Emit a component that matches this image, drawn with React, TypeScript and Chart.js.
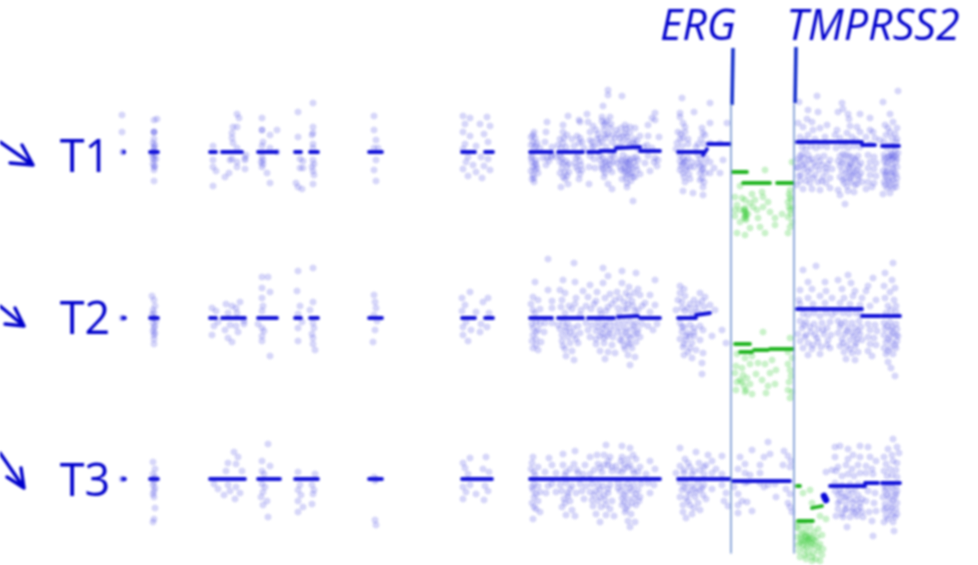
import React, { useEffect, useRef } from "react";
import { Chart, registerables } from "chart.js";
Chart.register(...registerables);

// Positions along the genome and deviation from each track's baseline, as flat [position, deviation, ...] lists.
const trackBase = { T1: 152, T2: 318, T3: 479 };
const trackNames = ["T1", "T2", "T3"];

const t1Left = [122,37,122,20,123,0,123,0,
154,32,157,33,154,20,154,20,154,20,154,13,153,9,155,7,154,5,154,3,154,0,154,0,152,-2,155,-3,153,-6,156,-7,154,-8,153,-12,155,-14,154,-15,154,-18,154,-29,
213,6,213,-8,213,-15,216,-19,213,-34,237,38,239,34,233,25,237,25,232,19,232,14,233,9,237,4,246,-3,245,-6,245,-8,230,-8,232,-7,237,-10,237,-15,245,-17,229,-21,225,-25,
262,34,262,22,262,22,277,22,270,17,263,10,262,6,270,4,277,0,262,-5,263,-8,261,-10,263,-12,262,-15,267,-21,270,-31,
298,40,313,49,313,25,298,15,312,17,313,19,313,8,313,4,300,-7,303,-9,300,-16,303,-16,313,-8,314,-12,312,-15,313,-19,314,-23,296,-31,298,-35,302,-37,313,-32,
374,36,374,22,376,12,374,4,378,4,376,-8,374,-18,376,-29,
463,36,470,34,487,35,465,28,480,28,490,26,463,20,470,16,484,18,488,10,465,8,476,6,463,3,468,-5,481,-5,488,-7,466,-10,473,-13,484,-14,463,-17,476,-20,490,-18,468,-24,482,-26];

const t1Mid = [608,62,608,57,622,56,603,46,655,39,652,34,655,32,682,54,710,49,680,39,680,35,694,40,547,30,568,36,563,27,579,32,580,30,588,30,587,38,602,35,610,35,602,31,605,29,610,24,625,27,635,24,648,27,683,29,685,25,710,29,727,29,702,24,703,19,533,17,535,14,546,20,563,20,567,17,590,20,625,19,627,15,648,16,659,15,683,14,680,13,710,9,720,9,533,10,545,10,560,13,572,13,580,14,563,9,590,12,602,10,612,10,630,7,620,5,635,7,647,7,
536,6,540,4,552,5,558,7,566,5,574,6,584,4,594,6,606,5,616,6,622,10,628,11,638,3,644,5,652,4,676,3,682,6,688,8,696,5,704,8,
543,-6,547,-6,546,-13,533,-15,535,-18,533,-23,534,-30,562,-6,563,-11,567,-14,578,-18,563,-25,565,-27,568,-32,561,-35,579,-27,589,-15,589,-32,595,-16,603,-18,608,-32,612,-37,605,-11,610,-8,620,-8,627,-6,625,-16,632,-16,627,-23,633,-25,627,-31,627,-35,633,-49,645,-11,650,-19,655,-6,658,-8,683,-6,687,-15,683,-21,685,-30,683,-39,693,-41,694,-15,702,-18,702,-26,703,-35,703,-43,710,-10,710,-21,723,-8,720,-21,
532,-4,536,-8,532,-10,536,-13,538,-21,532,-27,552,-3,556,-5,560,-4,566,-9,569,-12,560,-10,576,-6,580,-9,576,-15,582,-18,590,-4,594,-7,600,-3,603,-6,606,-9,602,-13,610,-13,614,-4,617,-11,620,-15,623,-3,626,-9,629,-11,624,-20,630,-14,636,-5,634,-10,637,-18,640,-22,622,-27,631,-29,648,-4,654,-10,657,-14,680,-3,684,-10,688,-6,692,-10,681,-14,689,-22,698,-3,700,-7,704,-12,706,-6,698,-11,700,-21,714,-16,
620,14,623,16,630,19,634,13,640,16,600,14,605,17,597,13,612,17,615,14,596,22,604,22,616,22,593,26];

const t1MidExtra = [531,15,534,20,531,7,534,4,537,9,531,-6,535,-11,531,-19,534,-26,537,-16,549,-9,551,-5,561,4,564,14,562,-16,565,-20,569,-20,560,-21,567,-24,577,16,579,9,582,10,575,-11,578,-4,581,-13,580,-22,592,5,598,18,592,10,599,8,602,-16,605,-21,609,-17,612,-20,604,-25,600,-8,607,-14,611,-3,613,-10,606,14,608,18,611,28,604,27,607,31,618,18,621,24,626,23,630,25,633,9,637,11,622,-9,624,-13,627,-11,630,-8,633,-6,621,-18,626,-19,629,-17,632,-21,635,-25,626,-26,636,-14,630,-22,638,-8,678,20,681,18,685,20,688,13,677,9,680,-9,683,-12,686,-9,690,-15,680,-18,686,-18,684,-25,690,-27,698,8,701,13,705,17,700,-14,703,-16,705,-21,700,-28,704,-30];

const t1Right = [898,61,817,56,799,50,883,50,842,49,808,42,818,40,843,43,838,40,848,38,860,38,870,34,890,38,849,33,807,33,798,29,812,30,827,27,803,25,813,22,820,24,837,22,850,26,857,25,870,22,885,27,897,24,890,20,800,15,808,17,835,17,847,19,860,20,873,20,
893,30,888,24,895,18,886,17,892,14,884,10,896,10,890,7,805,12,815,13,825,15,840,14,852,15,846,10,856,12,866,15,875,14,870,8,880,12,
800,-4,804,-6,808,-3,812,-7,818,-5,824,-4,830,-8,800,-10,806,-12,814,-11,822,-13,828,-12,798,-16,804,-17,811,-17,819,-18,826,-20,832,-17,801,-23,808,-24,815,-23,823,-25,830,-26,800,-29,810,-31,818,-30,826,-31,803,-37,812,-37,820,-38,830,-36,
840,-4,846,-3,852,-5,858,-4,838,-9,844,-8,850,-10,856,-9,861,-11,840,-14,847,-14,853,-15,859,-14,842,-19,849,-20,855,-20,861,-21,840,-25,846,-26,852,-24,858,-27,844,-31,851,-30,857,-32,862,-30,838,-38,848,-39,854,-40,840,-43,845,-52,
868,-3,874,-5,870,-10,876,-11,868,-16,874,-17,870,-23,876,-24,868,-30,874,-31,866,-37,872,-35,
884,-3,888,-5,892,-3,896,-4,884,-9,890,-8,896,-10,886,-14,892,-13,897,-15,883,-19,888,-19,894,-20,886,-25,892,-24,897,-26,884,-30,890,-30,896,-31,887,-36,893,-36,883,-42,890,-41,894,-5,890,-4,
798,-7,797,-15,799,-24,797,-33];

const t1RightExtra = [802,5,806,3,811,6,816,4,821,6,827,5,802,-2,809,-8,816,-14,803,-13,808,-19,820,-9,826,-16,813,-26,806,-29,822,-29,836,4,842,6,848,4,854,6,860,5,843,-2,849,-4,855,-7,842,-11,849,-16,857,-18,851,-12,846,-21,853,-22,859,-24,843,-28,850,-27,855,-33,847,-34,887,4,891,-1,895,1,898,-1,885,-6,892,-7,897,-7,887,-11,893,-16,886,-20,891,-21,896,-22,888,-28,893,-28,885,-33,890,-34,896,-35,893,6,897,13,885,-23];

const t1Green = [765,-18,792,-10,737,-53,745,-48,750,-51,763,-45,763,-55,762,-40,745,-56,745,-60,746,-63,744,-66,746,-68,740,-58,748,-62,750,-76,753,-55,760,-75,765,-81,775,-66,775,-73,790,-38,790,-45,788,-50,790,-58,788,-65,790,-75,788,-81,737,-81,745,-83,740,-70,735,-64,755,-48,770,-60,758,-66,735,-45,792,-55,792,-70,740,-34,752,-42,782,-62,745,-58,746,-61,745,-64,744,-58,746,-66,789,-42,791,-48,789,-55,791,-62,735,-58,742,-46,757,-58,768,-50];

const t2Left = [122,0,123,0,
152,22,154,18,155,12,153,8,154,5,152,3,154,0,154,0,156,-3,153,-5,155,-8,154,-10,153,-13,155,-15,154,-17,154,-21,154,-26,
212,10,216,7,226,14,232,12,236,10,240,16,228,5,237,5,244,-3,218,-4,214,-8,230,-7,236,-8,244,-6,225,-12,238,-14,212,-17,228,-20,232,-24,
262,41,268,41,262,30,262,20,270,26,263,12,262,7,258,-6,262,-10,264,-13,262,-18,262,-23,270,-38,
313,50,298,47,297,27,313,16,300,12,310,8,298,4,302,-4,298,-10,313,-5,314,-10,312,-16,313,-20,298,-23,313,-26,315,-32,
374,23,375,16,376,10,374,3,377,-3,375,-12,373,-24,
462,20,470,26,465,13,483,16,488,20,462,7,476,6,489,5,466,-4,481,-6,463,-9,487,-9,471,-12,480,-14,463,-17,468,-23];

const t2Mid = [548,59,574,55,603,50,622,47,636,45,655,38,680,32,608,42,535,36,563,38,575,36,590,33,603,35,622,35,629,31,638,29,548,28,560,28,565,25,583,27,597,26,610,24,617,26,629,22,640,23,650,23,680,25,685,22,700,25,705,21,533,21,538,18,552,17,562,18,576,20,588,21,596,17,605,20,615,18,624,16,632,17,645,15,655,13,682,16,690,14,695,10,704,11,710,13,533,8,540,9,552,10,561,11,572,9,581,8,591,9,600,8,608,11,618,10,627,9,635,7,650,6,676,8,685,7,692,5,698,6,715,8,
536,-4,540,-6,545,-5,533,-10,538,-12,544,-14,533,-17,536,-21,541,-24,533,-30,538,-32,552,-5,558,-7,563,-4,568,-6,560,-11,566,-13,573,-10,578,-8,562,-17,568,-19,574,-17,580,-15,562,-23,570,-25,578,-25,565,-31,572,-33,566,-38,574,-42,586,-5,592,-7,598,-4,604,-6,610,-4,588,-12,596,-13,603,-11,610,-12,590,-19,600,-18,607,-18,613,-19,596,-26,604,-25,612,-27,600,-33,608,-34,615,-35,605,-41,618,-4,624,-5,630,-4,636,-5,642,-6,620,-10,626,-11,632,-11,638,-12,622,-17,628,-18,634,-17,640,-19,622,-23,628,-25,636,-24,625,-31,632,-30,628,-37,635,-39,630,-47,648,-8,653,-12,657,-6,680,-5,684,-9,690,-7,694,-10,682,-14,688,-15,694,-18,680,-21,686,-22,692,-25,683,-29,690,-30,696,-32,684,-37,692,-40,700,-22,703,-35,702,-45,702,-56,712,-18,722,-12,726,-25];

const t2MidExtra = [531,14,535,5,532,-6,536,-14,532,-23,536,-27,565,5,569,12,575,14,580,3,586,12,594,14,601,4,606,7,612,14,619,4,624,9,628,14,633,12,638,8,642,12,620,20,626,25,634,25,614,-8,617,-14,620,-22,626,-14,630,-20,634,-8,637,-15,624,-28,630,-26,598,-9,602,-15,606,-8,609,-15,604,-20,596,-21,570,-14,576,-21,566,-9,563,-28,682,10,688,10,694,18,678,18,684,29,698,14,702,17,682,-9,686,-18,690,-18,684,-26,688,-34,694,-14,700,-8,703,-12];

const t2Right = [893,55,816,52,803,48,848,43,873,40,885,45,892,38,808,36,825,36,838,38,851,35,868,32,884,32,895,30,800,28,812,29,826,27,842,29,855,27,866,27,890,26,799,18,808,20,820,22,832,20,844,20,853,22,862,20,876,18,885,20,894,18,800,14,813,14,825,15,840,15,850,14,860,13,870,12,888,12,896,12,
800,-3,806,-4,814,-6,822,-5,830,-4,802,-10,810,-9,818,-11,827,-10,798,-16,806,-17,815,-17,824,-16,831,-17,800,-23,808,-25,818,-24,828,-22,803,-30,812,-31,821,-29,830,-30,808,-37,820,-36,
838,-3,845,-4,852,-5,859,-3,840,-9,848,-10,855,-10,861,-9,838,-15,845,-16,852,-15,860,-16,842,-21,850,-22,857,-21,862,-22,840,-28,847,-28,855,-28,844,-34,852,-35,858,-34,846,-41,855,-42,
868,-6,875,-7,870,-12,877,-13,868,-19,874,-20,870,-26,876,-27,868,-33,872,-38,
884,-5,890,-4,896,-6,885,-11,891,-12,897,-11,884,-17,890,-18,896,-17,886,-24,892,-24,897,-23,884,-30,890,-30,896,-30,886,-36,893,-36,888,-44,895,-58,891,-50];

const t2RightExtra = [803,4,808,3,814,5,820,2,826,5,832,3,836,6,843,5,849,4,856,5,861,3,804,-7,811,-14,817,-20,823,-12,827,-27,805,-19,813,-27,841,-6,847,-13,854,-18,858,-13,843,-25,850,-31,856,-25,886,5,891,8,896,6,887,-8,893,-15,888,-21,895,-27,888,-33,892,-9,898,-18];

const t2Green = [763,-14,790,-20,737,-36,745,-40,752,-38,758,-45,736,-48,742,-50,750,-46,765,-46,772,-42,788,-34,792,-40,788,-46,790,-52,735,-55,743,-57,747,-60,756,-56,770,-55,776,-52,791,-58,789,-64,737,-64,744,-68,742,-64,750,-66,762,-62,768,-68,775,-66,788,-72,792,-74,736,-72,745,-74,752,-76,766,-75,790,-80,740,-62,746,-72];

const t3Left = [122,0,123,0,
153,17,155,10,153,5,155,2,154,0,154,-3,153,-6,155,-9,154,-12,153,-15,154,-18,155,-29,154,-40,153,-43,
234,27,238,22,228,16,236,15,242,8,226,8,214,-5,228,-6,236,-8,230,-12,240,-14,218,-10,224,-16,235,-20,
268,35,262,18,270,13,262,8,264,5,262,-5,265,-8,263,-13,261,-18,267,-22,263,-26,268,-38,
298,7,315,5,300,-6,312,-6,298,-11,314,-11,301,-16,313,-15,298,-22,303,-28,298,-33,312,-25,
375,-2,374,2,376,0,375,-41,376,-46,
463,16,470,21,486,22,465,11,483,10,489,7,468,5,463,-8,470,-6,485,-7,488,-12,466,-13,476,-15,463,-20,484,-21];

const t3Mid = [606,34,604,24,622,33,630,31,575,28,563,25,549,21,533,22,590,22,597,24,610,22,622,22,636,20,650,18,680,31,696,27,708,24,685,20,699,16,712,18,722,23,740,22,752,29,768,37,770,25,764,22,784,28,788,23,532,16,538,12,552,14,563,14,574,15,585,14,598,15,608,14,616,13,624,15,630,14,640,12,655,10,680,13,690,12,704,12,716,10,738,10,745,15,760,14,783,14,790,12,791,18,
534,7,545,7,556,6,566,7,578,6,590,5,602,7,612,8,622,7,634,6,646,5,676,6,684,6,692,5,704,5,712,6,722,5,745,6,750,4,760,6,
534,-5,538,-7,548,-7,533,-11,540,-13,534,-18,538,-22,534,-28,540,-33,533,-40,546,-14,552,-5,560,-6,566,-4,572,-7,562,-12,568,-14,556,-13,564,-20,570,-22,562,-28,572,-31,566,-36,575,-37,580,-5,586,-7,592,-5,598,-6,582,-12,590,-13,596,-12,603,-7,610,-6,584,-20,592,-21,600,-18,608,-14,605,-21,612,-22,593,-27,601,-28,610,-30,596,-35,606,-36,614,-37,600,-43,618,-4,623,-7,628,-5,634,-6,641,-5,620,-12,626,-13,632,-12,638,-11,622,-19,628,-20,634,-19,640,-18,622,-26,628,-27,636,-26,625,-33,631,-35,628,-42,635,-43,630,-48,648,-4,654,-6,650,-14,680,-3,686,-5,692,-7,698,-4,704,-6,682,-11,688,-12,694,-10,700,-11,680,-18,686,-19,695,-18,703,-16,683,-26,690,-26,698,-24,706,-20,683,-33,692,-35,700,-31,686,-39,712,-10,722,-6,726,-14,724,-22,728,-27,734,-8,745,-4,738,-15,738,-26,738,-34,748,-3,742,-22,747,-23,752,-32,760,-4,764,-8,768,-6,775,-5,776,-18,786,-10,790,-15,788,-24,792,-33,790,-28];

const t3MidExtra = [531,10,535,4,532,-8,536,-15,532,-24,536,-30,565,4,570,10,577,9,583,5,594,9,600,11,604,14,608,18,612,12,618,8,624,10,628,12,633,9,638,7,621,18,628,20,633,24,618,-9,624,-16,630,-9,636,-15,639,-22,624,-23,632,-24,626,-30,600,-11,604,-16,608,-10,594,-16,598,-22,606,-26,570,-10,576,-14,565,-24,568,-17,684,9,688,16,694,8,700,9,706,14,684,-8,690,-15,696,-13,688,-22,694,-29,702,-9];

const t3Right = [893,40,888,30,897,32,884,22,892,24,899,26,835,32,840,33,848,30,860,33,868,32,835,22,848,20,853,24,860,22,870,22,876,18,886,15,893,18,897,16,838,12,846,14,852,10,858,14,866,13,872,10,884,8,890,10,896,9,
826,7,832,9,
840,-10,838,-16,846,-18,852,-14,858,-16,862,-20,868,-12,875,-14,840,-22,846,-25,853,-24,860,-24,866,-22,874,-24,838,-30,845,-31,852,-32,858,-31,862,-33,869,-33,876,-32,836,-37,843,-38,850,-38,857,-37,863,-38,872,-42,847,-48,
884,-6,890,-5,896,-7,885,-12,891,-13,897,-12,883,-18,889,-19,895,-18,885,-25,891,-25,897,-24,884,-31,890,-32,896,-30,886,-37,892,-36,884,-43,893,-43,894,-52,873,-57,835,-4,842,-6,850,-5,858,-5,864,-7];

const t3RightExtra = [836,8,842,3,848,5,854,3,860,6,866,6,873,5,887,3,892,4,897,2,835,-12,841,-14,848,-12,855,-10,838,-24,844,-18,850,-20,856,-21,846,-30,853,-29,860,-28,842,-35,855,-34,886,-9,892,-8,896,-15,887,-16,893,-21,886,-29,892,-29,897,-35,888,-40,895,-38];

const t3Green = [810,-11,803,-14,812,-24,820,-37,826,-40,798,-44,799,-50,801,-56,800,-64,799,-72,800,-78,804,-46,806,-52,810,-56,814,-53,818,-50,822,-56,802,-62,807,-64,811,-68,815,-62,820,-65,823,-70,804,-70,808,-74,813,-74,818,-72,822,-76,806,-80,812,-82,816,-80,801,-60,805,-58,809,-62,813,-60,817,-58,803,-66,807,-68,803,-54,797,-58,798,-66,810,-48,797,-48,805,-76,812,-78,820,-82,814,-66,818,-68,811,-59,808,-61,805,-62,808,-58,812,-64,806,-57];

// Copy-number segments: [start, end, startDeviation, endDeviation]
const blueSegs = {
  T1: [[124,124,0,0],[150,158,0,0],[210,216,0,0],[222,242,0,0],[258,277,0,0],[295,301,0,0],[310,318,0,0],[369,382,0,0],[462,475,0,0],[485,493,0,0],[530,552,0,0],[558,583,0,0],[588,600,0,0],[600,615,1,1],[616,640,4,5],[640,660,1,1],[678,703,0,0],[703,707,-3,3],[708,730,8,8],[797,862,10,10],[862,875,7,7],[882,899,6,6]],
  T2: [[123,125,0,0],[150,158,0,0],[210,216,0,0],[222,245,0,0],[258,277,0,0],[295,301,0,0],[310,318,0,0],[369,382,0,0],[462,475,0,0],[485,493,0,0],[530,552,0,0],[558,583,0,0],[588,614,0,0],[618,638,1,2],[640,660,0,0],[678,696,0,0],[696,710,3,5],[797,862,9,9],[862,880,2,2],[882,900,2,2]],
  T3: [[123,125,0,0],[150,158,0,0],[210,245,0,0],[258,280,0,0],[295,318,0,0],[369,382,0,0],[462,492,0,0],[530,660,0,0],[678,730,0,0],[733,790,-2,-2],[830,865,-7,-7],[865,878,-4,-4],[882,900,-4,-4]],
};
const greenSegs = {
  T1: [[733,747,-20,-20],[743,770,-31,-31],[777,793,-31,-31]],
  T2: [[735,750,-26,-26],[740,752,-34,-34],[754,768,-32,-32],[770,793,-31,-31]],
  T3: [[797,800,-7,-7],[812,822,-29,-27],[798,813,-42,-42]],
};
const t3BlueBlob = [[824,826,-17,-21]];

const geneLabels = [{ text: "ERG", x: 698, y: 28 }, { text: "TMPRSS2", x: 873, y: 28 }];
const geneLines = [731, 794];
const geneLineTop = 104;
const geneLineBottom = 553;
const geneStems = [[733, 48, 732, 105], [796, 47, 795, 103]];
const arrows = {
  T1: [[0, 142], [33, 165], [22, 145], [33, 165], [10, 163]],
  T2: [[0, 306], [24, 326], [15, 308], [24, 326], [5, 324]],
  T3: [[0, 453], [24, 488], [21, 468], [24, 488], [7, 477]],
};
const labelOffsets = { T1: 7, T2: 3, T3: 4 };

const toPts = (flat: number[], base: number) => {
  const out: { x: number; y: number }[] = [];
  for (let i = 0; i < flat.length; i += 2) out.push({ x: flat[i], y: base - flat[i + 1] });
  return out;
};

const BLUE_FILL = "rgba(55,55,230,0.20)";
const BLUE_EDGE = "rgba(85,85,215,0.18)";
const GREEN_FILL = "rgba(50,205,50,0.26)";
const GREEN_EDGE = "rgba(70,200,70,0.18)";
const INK = "#0000cc";

export default function App() {
  const ref = useRef<HTMLCanvasElement>(null);
  useEffect(() => {
    const datasets: any[] = [];
    const line = (data: any[], color: string, width: number, cap = "round") =>
      datasets.push({ type: "line", data, borderColor: color, borderWidth: width, pointRadius: 0, borderCapStyle: cap, borderJoinStyle: "round", tension: 0, order: 0, fill: false });
    geneLines.forEach((x) => line([{ x, y: geneLineTop }, { x, y: geneLineBottom }], "#6b8fd0", 1.5, "butt"));
    geneStems.forEach((s) => line([{ x: s[0], y: s[1] }, { x: s[2], y: s[3] }], "#1530cc", 3.6, "butt"));
    trackNames.forEach((t) => {
      const base = (trackBase as any)[t];
      (blueSegs as any)[t].forEach((s: number[]) => line([{ x: s[0], y: base - s[2] }, { x: s[1], y: base - s[3] }], "#1212d8", 3.8));
      (greenSegs as any)[t].forEach((s: number[]) => line([{ x: s[0], y: base - s[2] }, { x: s[1], y: base - s[3] }], "#22b522", 3.8));
      line((arrows as any)[t].map((p: number[]) => ({ x: p[0], y: p[1] })), INK, 3.4);
    });
    t3BlueBlob.forEach((s) => line([{ x: s[0], y: trackBase.T3 - s[2] }, { x: s[1], y: trackBase.T3 - s[3] }], "#0a0ad8", 6.5));
    const pts = (flat: number[], base: number, green = false) =>
      datasets.push({ type: "scatter", data: toPts(flat, base), backgroundColor: green ? GREEN_FILL : BLUE_FILL, borderColor: green ? GREEN_EDGE : BLUE_EDGE, borderWidth: 0.8, pointRadius: 3, order: 1 });
    pts([...t1Left, ...t1Mid, ...t1MidExtra, ...t1Right, ...t1RightExtra], trackBase.T1);
    pts(t1Green, trackBase.T1, true);
    pts([...t2Left, ...t2Mid, ...t2MidExtra, ...t2Right, ...t2RightExtra], trackBase.T2);
    pts(t2Green, trackBase.T2, true);
    pts([...t3Left, ...t3Mid, ...t3MidExtra, ...t3Right, ...t3RightExtra], trackBase.T3);
    pts(t3Green, trackBase.T3, true);

    const labelPlugin = {
      id: "trackLabels",
      afterDraw(c: any) {
        const { ctx, scales } = c;
        ctx.save();
        ctx.fillStyle = INK;
        ctx.textBaseline = "middle";
        ctx.textAlign = "center";
        ctx.font = '45px "Open Sans"';
        trackNames.forEach((t) => ctx.fillText(t, scales.x.getPixelForValue(85), scales.y.getPixelForValue((trackBase as any)[t] + (labelOffsets as any)[t])));
        ctx.font = 'italic 43px "Open Sans"';
        geneLabels.forEach((g) => ctx.fillText(g.text, scales.x.getPixelForValue(g.x), scales.y.getPixelForValue(g.y)));
        ctx.restore();
      },
    };

    const chart = new Chart(ref.current as HTMLCanvasElement, {
      type: "scatter",
      data: { datasets },
      options: {
        animation: false,
        responsive: false,
        layout: { padding: 0, autoPadding: false },
        plugins: { legend: { display: false }, tooltip: { enabled: false } },
        scales: {
          x: { type: "linear", min: 0, max: 978, display: false },
          y: { type: "linear", min: 0, max: 565, reverse: true, display: false },
        },
      },
      plugins: [labelPlugin],
    } as any);
    return () => chart.destroy();
  }, []);
  return (
    <div style={{ position: "fixed", left: 0, top: 0, width: 978, height: 565, background: "#fff" }}>
      <canvas ref={ref} width={978} height={565} style={{ display: "block", filter: "blur(0.9px)" }} />
    </div>
  );
}
